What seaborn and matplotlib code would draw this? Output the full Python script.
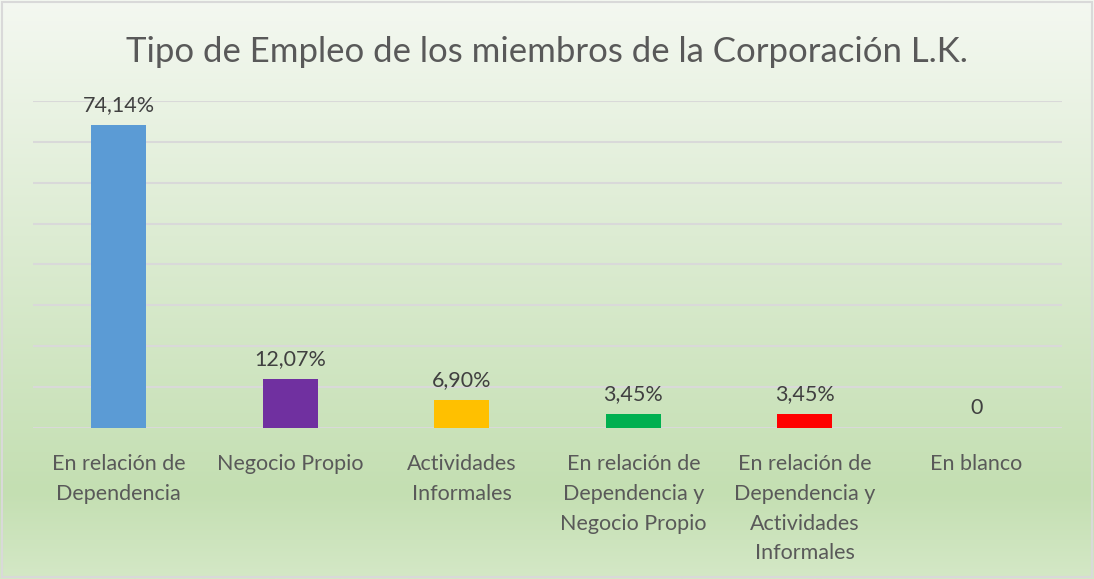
import numpy as np
import pandas as pd
import matplotlib.pyplot as plt
import seaborn as sns

# Datos
categorias = [
    "En relación de\nDependencia",
    "Negocio Propio",
    "Actividades\nInformales",
    "En relación de\nDependencia y\nNegocio Propio",
    "En relación de\nDependencia y\nActividades\nInformales",
    "En blanco",
]
porcentajes = [74.14, 12.07, 6.90, 3.45, 3.45, 0.0]
etiquetas = ["74,14%", "12,07%", "6,90%", "3,45%", "3,45%", "0"]
colores = ["#5B9BD5", "#7030A0", "#FFC000", "#00B050", "#FF0000", "#A5A5A5"]

df = pd.DataFrame({"tipo": categorias, "valor": porcentajes})

sns.set_theme(style="white")
plt.rcParams["font.family"] = ["Lato", "DejaVu Sans"]

fig = plt.figure(figsize=(10.94, 5.79), dpi=100)

# fondo degradado (blanco arriba, verde abajo)
bg = fig.add_axes([0, 0, 1, 1], zorder=-10)
top = np.array([244, 248, 241]) / 255
mid = np.array([196, 223, 178]) / 255
bot = np.array([212, 232, 198]) / 255
t = np.linspace(0, 1, 300)[:, None]
grad = np.where(t < 0.85, top + (mid - top) * (t / 0.85), mid + (bot - mid) * ((t - 0.85) / 0.15))
bg.imshow(grad[:, None, :].repeat(2, axis=1), aspect="auto", extent=[0, 1, 0, 1], origin="upper")
bg.axis("off")
fig.patches.append(plt.Rectangle((0.002, 0.003), 0.996, 0.994, transform=fig.transFigure,
                                 fill=False, edgecolor="#d9d9d9", linewidth=1.5))

ax = fig.add_axes([0.030, 0.2608, 0.941, 0.5648])
ax.patch.set_alpha(0)
sns.barplot(data=df, x="tipo", y="valor", hue="tipo", palette=colores,
            width=0.32, legend=False, ax=ax, zorder=3, saturation=1, linewidth=0)

ax.set_ylim(0, 80)
ax.set_yticks(np.arange(0, 81, 10))
ax.yaxis.grid(True, color="#d9d9d9", linewidth=1.5, zorder=0)
ax.tick_params(axis="y", left=False, labelleft=False)
ax.tick_params(axis="x", bottom=False, pad=13)
ax.set_xticks(range(len(categorias)))
ax.set_xticklabels(categorias, fontsize=15.5, color="#595959", linespacing=1.6)
for s in ax.spines.values():
    s.set_visible(False)
ax.set_xlabel("")
ax.set_ylabel("")

for i, (v, txt) in enumerate(zip(porcentajes, etiquetas)):
    ax.text(i, v + 2.4, txt, ha="center", va="bottom", fontsize=15.5, color="#404040")

fig.text(0.5, 0.91, "Tipo de Empleo de los miembros de la Corporación L.K.",
         ha="center", va="center", fontsize=25, color="#595959")

fig.savefig("out.png", dpi=100)
